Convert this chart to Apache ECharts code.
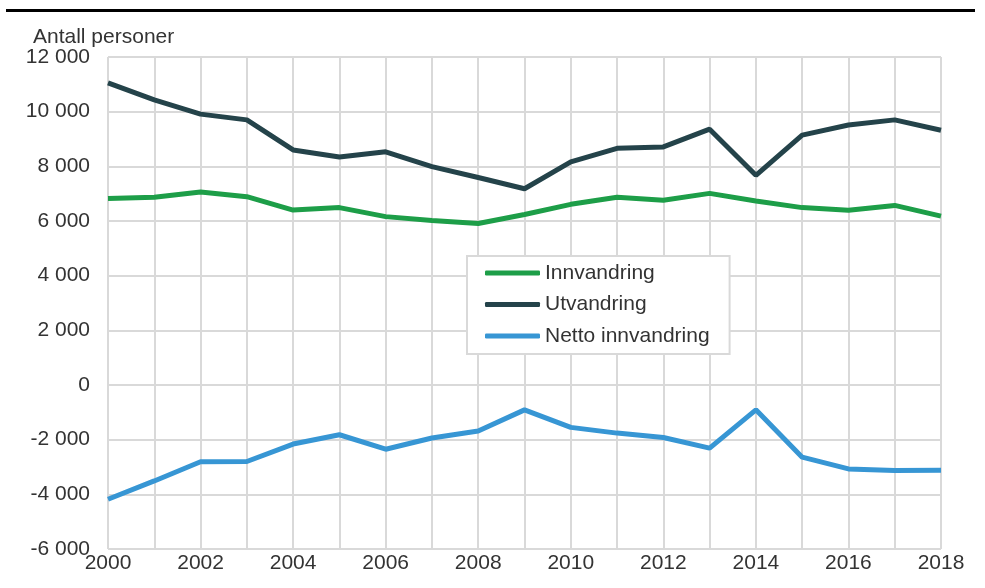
<!DOCTYPE html>
<html>
<head>
<meta charset="utf-8">
<script src="https://cdn.jsdelivr.net/npm/echarts@6/dist/echarts.min.js"></script>
<style>
html,body{margin:0;padding:0;background:#fff;}
#chart{width:985px;height:588px;}
</style>
</head>
<body>
<div id="chart"></div>
<script>
const years = ['2000','2001','2002','2003','2004','2005','2006','2007','2008','2009','2010','2011','2012','2013','2014','2015','2016','2017','2018'];
const innvandring = [6820,6870,7060,6890,6400,6490,6160,6020,5910,6240,6610,6870,6760,7010,6730,6490,6390,6570,6180];
const utvandring = [11050,10430,9910,9700,8600,8340,8530,7990,7590,7180,8160,8660,8710,9360,7670,9140,9510,9700,9320];
const netto = [-4180,-3510,-2810,-2800,-2160,-1820,-2350,-1940,-1680,-910,-1550,-1760,-1920,-2310,-910,-2640,-3070,-3130,-3120];
const seriesNames = ['Innvandring','Utvandring','Netto innvandring'];
const colors = ['#1d9e48','#24434a','#3796d4'];

const fontFamily = '"Liberation Sans", Arial, sans-serif';
const chart = echarts.init(document.getElementById('chart'), null, {renderer:'canvas'});
const fmt = v => {
  const s = Math.abs(v).toString().replace(/\B(?=(\d{3})+(?!\d))/g, ' ');
  return (v < 0 ? '-' : '') + s;
};
const dataSets = [innvandring, utvandring, netto];
chart.setOption({
  animation: false,
  backgroundColor: '#fff',
  textStyle: {fontFamily: fontFamily},
  title: {
    text: 'Antall personer',
    left: 28, top: 22,
    textStyle: {fontSize: 21, fontWeight: 'normal', color: '#333', fontFamily: fontFamily}
  },
  graphic: [{
    type: 'rect', shape: {x: 6, y: 9, width: 969, height: 3}, style: {fill: '#000'}
  }],
  grid: {left: 108, right: 44, top: 57, bottom: 39, containLabel: false},
  legend: {
    orient: 'vertical',
    left: 467, top: 256,
    data: seriesNames,
    backgroundColor: '#fff',
    borderColor: '#d9d9d9', borderWidth: 2,
    padding: [6, 20, 7, 18],
    itemWidth: 55, itemHeight: 5,
    itemGap: 9.5,
    icon: 'roundRect',
    textStyle: {fontSize: 21, color: '#333', lineHeight: 22, fontFamily: fontFamily}
  },
  xAxis: {
    type: 'category',
    data: years,
    boundaryGap: false,
    axisLine: {show: false},
    axisTick: {show: false},
    axisLabel: {interval: 1, fontSize: 21, color: '#333', margin: 4, fontFamily: fontFamily},
    splitLine: {show: true, interval: 0, lineStyle: {color: '#d9d9d9', width: 2}}
  },
  yAxis: {
    type: 'value',
    min: -6000, max: 12000, interval: 2000,
    axisLine: {show: false},
    axisTick: {show: false},
    axisLabel: {formatter: fmt, fontSize: 21, color: '#333', margin: 18, fontFamily: fontFamily},
    splitLine: {show: true, lineStyle: {color: '#d9d9d9', width: 2}}
  },
  series: seriesNames.map((name, i) => ({
    name: name,
    type: 'line',
    data: dataSets[i],
    symbol: 'none',
    color: colors[i],
    lineStyle: {width: 5, color: colors[i]},
    itemStyle: {color: colors[i]},
    z: 3 - i
  }))
});
</script>
</body>
</html>
